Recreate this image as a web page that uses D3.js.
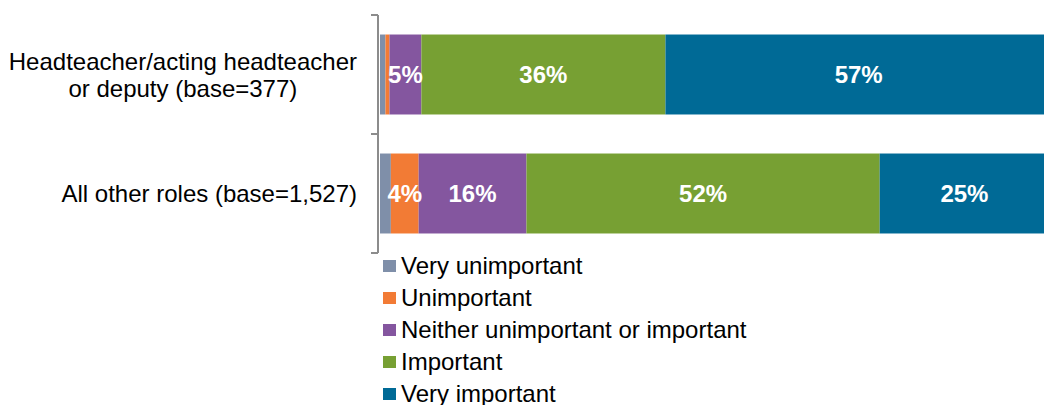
<!DOCTYPE html>
<html>
<head>
<meta charset="utf-8">
<script src="https://cdn.jsdelivr.net/npm/d3@7"></script>
<style>
  body { margin: 0; background: #fff; }
  svg { display: block; font-family: "Liberation Sans", Arial, sans-serif; }
</style>
</head>
<body>
<svg id="chart" width="1044" height="405"></svg>
<script>
// categories (top to bottom)
var roles = ["Headteacher/acting headteacher\nor deputy (base=377)", "All other roles (base=1,527)"];
var levels = ["Very unimportant", "Unimportant", "Neither unimportant or important", "Important", "Very important"];
var colors = ["#7F8FA9", "#F27B35", "#84569F", "#77A033", "#006A96"];

// percent values per role, in level order
var headValues = [0.8, 0.6, 4.7, 36.0, 57.0];
var otherValues = [1.6, 4.1, 15.9, 52.1, 25.0];
var allValues = [headValues, otherValues];

var svg = d3.select("#chart");

var x = d3.scaleLinear().domain([0, 100]).range([380, 1058]);
var y = d3.scaleBand().domain(roles).range([15, 253]).paddingInner(0.328).paddingOuter(0.164);
var color = d3.scaleOrdinal().domain(levels).range(colors);

// build stacked segments
var segs = [];
roles.forEach(function(r, i) {
  var acc = 0;
  allValues[i].forEach(function(v, j) {
    segs.push({role: r, level: levels[j], v: v, x0: acc, x1: acc + v});
    acc += v;
  });
});

svg.append("g").selectAll("rect")
  .data(segs)
  .enter().append("rect")
  .attr("x", function(d) { return x(d.x0); })
  .attr("y", function(d) { return y(d.role); })
  .attr("width", function(d) { return x(d.x1) - x(d.x0); })
  .attr("height", y.bandwidth())
  .attr("fill", function(d) { return color(d.level); });

// value labels
svg.append("g").selectAll("text")
  .data(segs.filter(function(d) { return d.v >= 3; }))
  .enter().append("text")
  .attr("x", function(d) { return (x(d.x0) + x(d.x1)) / 2; })
  .attr("y", function(d) { return y(d.role) + y.bandwidth() / 2 + 8.5; })
  .attr("text-anchor", "middle")
  .attr("fill", "#fff")
  .attr("font-weight", "bold")
  .attr("font-size", 24)
  .text(function(d) { return Math.round(d.v) + "%"; });

// category axis (bracket style)
var axisX = 378;
var ax = svg.append("g").attr("stroke", "#8C8C8C").attr("stroke-width", 2);
ax.append("line").attr("x1", axisX).attr("x2", axisX).attr("y1", y.range()[0]).attr("y2", y.range()[1]);
var tickYs = [y.range()[0]].concat(roles.map(function(r) { return y(r) + y.bandwidth() + y.step() * y.paddingInner() / 2; }));
tickYs.forEach(function(t) {
  ax.append("line").attr("x1", axisX - 7).attr("x2", axisX).attr("y1", t).attr("y2", t);
});

// category labels: block right-aligned at 357, lines centred within the block
roles.forEach(function(r) {
  var lines = r.split("\n");
  var cy = y(r) + y.bandwidth() / 2;
  var lh = 27;
  var t = svg.append("text")
    .attr("text-anchor", "middle")
    .attr("font-size", 24)
    .attr("fill", "#000");
  var spans = lines.map(function(l, k) {
    return t.append("tspan")
      .attr("y", cy + 8.5 + (k - (lines.length - 1) / 2) * lh)
      .text(l);
  });
  var maxW = d3.max(spans, function(s) { return s.node().getComputedTextLength(); });
  spans.forEach(function(s) { s.attr("x", 357 - maxW / 2); });
});

// legend
var lg = svg.append("g").selectAll("g")
  .data(levels)
  .enter().append("g")
  .attr("transform", function(d, i) { return "translate(383," + (274 + i * 32) + ")"; });
lg.append("rect").attr("x", 0).attr("y", -14).attr("width", 13).attr("height", 12)
  .attr("fill", function(d) { return color(d); });
lg.append("text").attr("x", 18).attr("y", 0).attr("font-size", 24).attr("fill", "#000")
  .text(function(d) { return d; });
</script>
</body>
</html>
